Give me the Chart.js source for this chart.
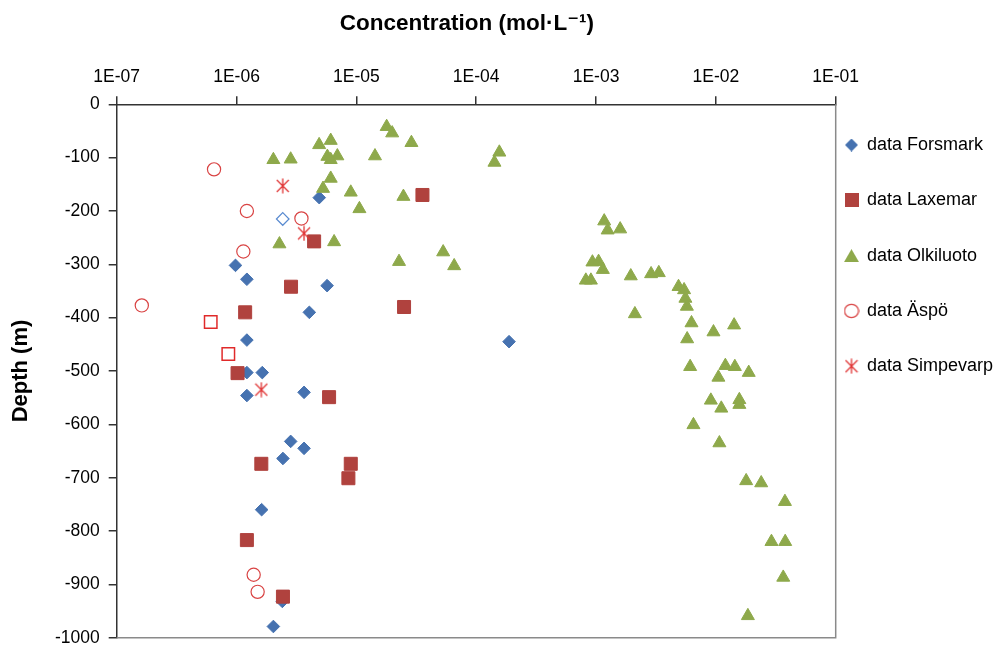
<!DOCTYPE html>
<html>
<head>
<meta charset="utf-8">
<script src="https://cdn.jsdelivr.net/npm/chart.js@4"></script>
<style>
html,body{margin:0;padding:0;background:#fff;}
#wrap{width:997px;height:648px;}
</style>
</head>
<body>
<div id="wrap"><canvas id="c" width="997" height="648"></canvas></div>
<script>
// ---- tick values / labels ----
const xTickValues = [1e-7, 1e-6, 1e-5, 1e-4, 1e-3, 1e-2, 1e-1];
const xTickLabels = ['1E-07', '1E-06', '1E-05', '1E-04', '1E-03', '1E-02', '1E-01'];
const yTickValues = [-1000, -900, -800, -700, -600, -500, -400, -300, -200, -100, 0];
const yTickLabels = ['-1000', '-900', '-800', '-700', '-600', '-500', '-400', '-300', '-200', '-100', '0'];

// ---- series names ----
const seriesNames = ['data Forsmark', 'data Laxemar', 'data Olkiluoto', 'data Äspö', 'data Simpevarp'];

// ---- data Forsmark ----
const forsmarkConc  = [4.9e-6, 9.8e-7, 1.22e-6, 5.7e-6, 4.05e-6, 1.22e-6, 1.22e-6, 1.64e-6, 1.22e-6, 3.66e-6, 2.83e-6, 3.66e-6, 2.44e-6, 1.62e-6, 2.41e-6, 2.03e-6, 1.88e-4];
const forsmarkDepth = [-175, -302, -328, -340, -390, -442, -503, -503, -546, -540, -632, -645, -664, -760, -932, -979, -445];
const forsmarkOpenConc  = [2.43e-6];
const forsmarkOpenDepth = [-215];

// ---- data Laxemar ----
const laxemarConc  = [3.56e-5, 4.44e-6, 2.85e-6, 2.5e-5, 1.18e-6, 1.02e-6, 5.92e-6, 1.61e-6, 8.98e-6, 8.58e-6, 1.22e-6, 2.44e-6];
const laxemarDepth = [-170, -257, -342, -380, -390, -504, -549, -674, -674, -701, -817, -923];
const laxemarOpenConc  = [6.09e-7, 8.54e-7];
const laxemarOpenDepth = [-408, -468];

// ---- data Olkiluoto ----
const olkiluotoConc = [
  2.03e-6, 2.83e-6, 1.79e-5, 1.99e-5, 2.88e-5, 4.89e-6, 6.11e-6, 5.73e-6, 6.94e-6, 6.11e-6,
  1.43e-5, 6.11e-6, 5.27e-6, 8.98e-6, 1.06e-5, 2.47e-5, 2.28e-6, 6.52e-6, 2.27e-5, 5.30e-5,
  6.55e-5, 1.56e-4, 1.42e-4, 1.17e-3, 1.25e-3, 1.59e-3, 9.33e-4, 1.05e-3, 1.14e-3, 8.22e-4,
  9.06e-4, 1.95e-3, 2.88e-3, 3.34e-3, 4.88e-3, 5.43e-3, 5.57e-3, 5.73e-3, 2.11e-3, 6.26e-3,
  9.55e-3, 1.42e-2, 5.76e-3, 6.10e-3, 1.20e-2, 1.44e-2, 1.88e-2, 1.05e-2, 9.08e-3, 1.11e-2,
  1.57e-2, 1.57e-2, 6.50e-3, 1.07e-2, 1.79e-2, 2.39e-2, 3.77e-2, 2.91e-2, 3.79e-2, 3.65e-2,
  1.85e-2
];
const olkiluotoDepth = [
  -104, -103, -42, -54, -72, -76, -68, -98, -97, -104,
  -97, -139, -158, -165, -196, -173, -262, -258, -295, -277,
  -303, -90, -109, -219, -236, -234, -296, -295, -310, -330,
  -330, -322, -318, -316, -342, -348, -364, -379, -393, -410,
  -427, -414, -440, -492, -490, -492, -503, -512, -555, -570,
  -554, -563, -601, -635, -706, -710, -745, -820, -820, -887,
  -959
];

// ---- data Äspö ----
const aspoConc  = [6.49e-7, 1.22e-6, 3.48e-6, 1.14e-6, 1.62e-7, 1.39e-6, 1.50e-6];
const aspoDepth = [-122, -200, -214, -276, -377, -882, -914];

// ---- data Simpevarp ----
const simpevarpConc  = [2.43e-6, 3.66e-6, 1.61e-6];
const simpevarpDepth = [-153, -242, -535];

function pts(xs, ys) { return xs.map((x, i) => ({x: x, y: ys[i]})); }

const BLUE = '#4672B0', RED = '#B0423E', GREEN = '#8EA94B', LRED = '#D94444', SRED = '#E03434';

// marker glyphs drawn on small canvases (used for the asterisk and for the legend)
function marker(kind, color) {
  const c = document.createElement('canvas');
  const g = c.getContext('2d');
  if (kind === 'star') {
    c.width = 14; c.height = 16;
    g.strokeStyle = color; g.lineWidth = 1.3;
    g.beginPath();
    g.moveTo(1, 2); g.lineTo(13, 14);
    g.moveTo(13, 2); g.lineTo(1, 14);
    g.moveTo(7, 0.5); g.lineTo(7, 15.5);
    g.stroke();
  } else if (kind === 'diamond') {
    c.width = 13; c.height = 13;
    g.fillStyle = color;
    g.beginPath(); g.moveTo(6.5, 0); g.lineTo(13, 6.5); g.lineTo(6.5, 13); g.lineTo(0, 6.5); g.closePath(); g.fill();
  } else if (kind === 'square') {
    c.width = 14; c.height = 14;
    g.fillStyle = color; g.fillRect(0, 0, 14, 14);
  } else if (kind === 'triangle') {
    c.width = 15; c.height = 13;
    g.fillStyle = color;
    g.beginPath(); g.moveTo(7.5, 0); g.lineTo(15, 13); g.lineTo(0, 13); g.closePath(); g.fill();
  } else if (kind === 'circle') {
    c.width = 16; c.height = 16;
    g.strokeStyle = color; g.lineWidth = 1.2;
    g.beginPath(); g.ellipse(8, 8, 7, 6.7, 0, 0, Math.PI * 2); g.stroke();
  }
  return c;
}
const legendMarkers = [marker('diamond', BLUE), marker('square', RED), marker('triangle', GREEN), marker('circle', LRED), marker('star', SRED)];

Chart.defaults.font.family = "'Liberation Sans', Arial, 'DejaVu Sans', sans-serif";
Chart.defaults.color = '#000';

const frame = {
  id: 'frame',
  beforeDatasetsDraw(chart) {
    const {ctx, chartArea: a} = chart;
    ctx.save();
    ctx.strokeStyle = '#8a8a8a';
    ctx.lineWidth = 1.5;
    ctx.beginPath();
    ctx.moveTo(a.right, a.top);
    ctx.lineTo(a.right, a.bottom);
    ctx.lineTo(a.left, a.bottom);
    ctx.stroke();
    ctx.restore();
  }
};

const datasets = [
  { label: seriesNames[0], data: pts(forsmarkConc, forsmarkDepth), order: 7,
    pointStyle: 'rectRot', pointRadius: 6.3, pointHoverRadius: 6.3,
    backgroundColor: BLUE, borderColor: BLUE, pointBackgroundColor: BLUE, pointBorderColor: BLUE, pointBorderWidth: 1, borderWidth: 1 },
  { label: seriesNames[1], data: pts(laxemarConc, laxemarDepth), order: 5,
    pointStyle: 'rect', pointRadius: 9.2, pointHoverRadius: 9.2,
    backgroundColor: RED, borderColor: RED, pointBackgroundColor: RED, pointBorderColor: RED, pointBorderWidth: 1, borderWidth: 1 },
  { label: seriesNames[2], data: pts(olkiluotoConc, olkiluotoDepth), order: 3,
    pointStyle: 'triangle', pointRadius: 7.5, pointHoverRadius: 7.5,
    backgroundColor: GREEN, borderColor: GREEN, pointBackgroundColor: GREEN, pointBorderColor: GREEN, pointBorderWidth: 1, borderWidth: 1 },
  { label: seriesNames[3], data: pts(aspoConc, aspoDepth), order: 2,
    pointStyle: 'circle', pointRadius: 6.6, pointHoverRadius: 6.6,
    backgroundColor: 'rgba(0,0,0,0)', borderColor: LRED, pointBackgroundColor: 'rgba(0,0,0,0)', pointBorderColor: LRED, pointBorderWidth: 1.2, borderWidth: 1.2 },
  { label: seriesNames[4], data: pts(simpevarpConc, simpevarpDepth), order: 1,
    pointStyle: marker('star', SRED), pointRadius: 7, pointHoverRadius: 7,
    backgroundColor: SRED, borderColor: SRED, pointBackgroundColor: SRED, pointBorderColor: SRED, pointBorderWidth: 1, borderWidth: 1 },
  { label: 'Forsmark (open)', hideInLegend: true, data: pts(forsmarkOpenConc, forsmarkOpenDepth), order: 6,
    pointStyle: 'rectRot', pointRadius: 6.3, pointHoverRadius: 6.3,
    backgroundColor: 'rgba(0,0,0,0)', borderColor: '#5A8BD0', pointBackgroundColor: 'rgba(0,0,0,0)', pointBorderColor: '#5A8BD0', pointBorderWidth: 1.2, borderWidth: 1.2 },
  { label: 'Laxemar (open)', hideInLegend: true, data: pts(laxemarOpenConc, laxemarOpenDepth), order: 4,
    pointStyle: 'rect', pointRadius: 8.8, pointHoverRadius: 8.8,
    backgroundColor: 'rgba(0,0,0,0)', borderColor: '#E02A2A', pointBackgroundColor: 'rgba(0,0,0,0)', pointBorderColor: '#E02A2A', pointBorderWidth: 1.5, borderWidth: 1.5 }
];

new Chart(document.getElementById('c'), {
  type: 'scatter',
  data: { datasets: datasets },
  plugins: [frame],
  options: {
    responsive: false,
    animation: false,
    events: [],
    devicePixelRatio: 1,
    layout: { padding: { left: 4, top: 0, right: 0, bottom: 10 } },
    scales: {
      x: {
        type: 'logarithmic', position: 'top', min: 1e-7, max: 1e-1,
        afterBuildTicks: s => { s.ticks = xTickValues.map(v => ({ value: v, major: true })); },
        afterFit: s => { s.height = 104.3; },
        ticks: { autoSkip: false, maxRotation: 0, minRotation: 0, padding: 8.5, color: '#000',
                 font: { size: 17.5 }, callback: (v, i) => xTickLabels[i] },
        grid: { drawOnChartArea: false, drawTicks: true, tickLength: 8, color: '#333', lineWidth: 1.5 },
        border: { display: true, color: '#333', width: 1.5 },
        title: { display: true, text: 'Concentration (mol·L⁻¹)   ', color: '#000',
                 font: { size: 22.5, weight: 'bold' }, padding: { top: 10, bottom: 0 } }
      },
      y: {
        type: 'linear', position: 'left', min: -1000, max: 0,
        afterBuildTicks: s => { s.ticks = yTickValues.map(v => ({ value: v })); },
        afterFit: s => { s.width = 112.7; s.paddingTop = 0; s.paddingBottom = 0; },
        ticks: { autoSkip: false, padding: 9, color: '#000', font: { size: 17.5 },
                 callback: (v, i) => yTickLabels[i] },
        grid: { drawOnChartArea: false, drawTicks: true, tickLength: 8, color: '#333', lineWidth: 1.5 },
        border: { display: true, color: '#333', width: 1.5 },
        title: { display: true, text: 'Depth (m)', color: '#000',
                 font: { size: 22, weight: 'bold' }, padding: { top: 4, bottom: 0 } }
      }
    },
    plugins: {
      tooltip: { enabled: false },
      legend: {
        position: 'right', align: 'start', maxWidth: 161.3,
        title: { display: true, text: ' ', font: { size: 10 }, padding: { top: 114.7, bottom: 0 } },
        labels: {
          usePointStyle: true, boxWidth: 13, boxHeight: 10, padding: 9.3, color: '#000',
          font: { size: 18, lineHeight: '46px' },
          generateLabels(chart) {
            const base = Chart.defaults.plugins.legend.labels.generateLabels(chart);
            return base
              .filter(it => !chart.data.datasets[it.datasetIndex].hideInLegend)
              .sort((a, b) => a.datasetIndex - b.datasetIndex)
              .map(it => Object.assign(it, { text: [it.text], pointStyle: legendMarkers[it.datasetIndex] }));
          }
        }
      }
    }
  }
});
</script>
</body>
</html>
